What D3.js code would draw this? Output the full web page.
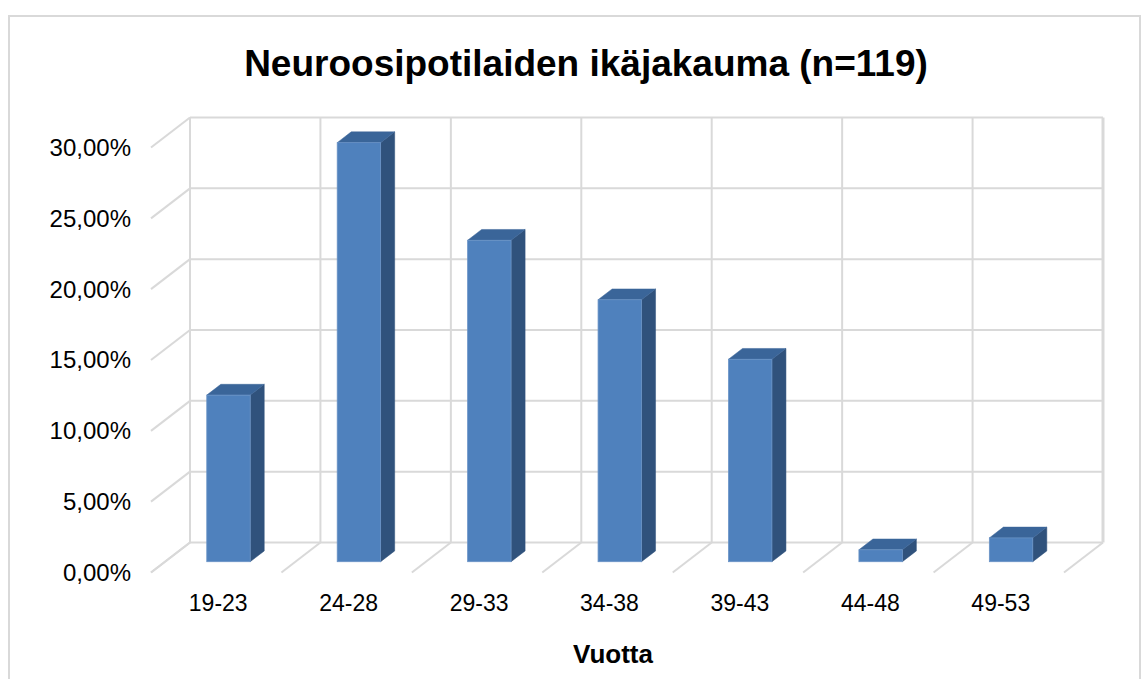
<!DOCTYPE html>
<html><head><meta charset="utf-8">
<script src="https://cdn.jsdelivr.net/npm/d3@7/dist/d3.min.js"></script>
<style>html,body{margin:0;padding:0;background:#fff;}svg{display:block;}</style>
</head><body>
<svg id="c" width="1148" height="679"></svg>
<script>
const categories = ["19-23","24-28","29-33","34-38","39-43","44-48","49-53"];
const values = [0.1176, 0.2958, 0.2269, 0.1849, 0.1429, 0.0084, 0.0168];
const yTicks = [0, 0.05, 0.10, 0.15, 0.20, 0.25, 0.30];
const titleText = "Neuroosipotilaiden ikäjakauma (n=119)";
const xTitle = "Vuotta";

const svg = d3.select("#c");
const font = "'Liberation Sans', Arial, sans-serif";
const grid = "#d9d9d9";

// outer border
svg.append("rect").attr("x",9).attr("y",16).attr("width",1131).attr("height",700)
  .attr("fill","#fff").attr("stroke","#d9d9d9").attr("stroke-width",2);

const x = d3.scaleBand().domain(categories).range([190,1103]);
const y = d3.scaleLinear().domain([0,0.30]).range([542.5,117.5]);
const DX = -39, DY = 30; // full depth offset (back -> front)
const P = (px, py, t) => [px + DX*t, py + DY*t];

const loc = d3.formatLocale({decimal:",", thousands:" ", grouping:[3], currency:["","€"]});
const fmt = loc.format(".2%");

const g = svg.append("g");
// back wall horizontal grid
yTicks.forEach(v => {
  g.append("line").attr("x1",190).attr("x2",1103).attr("y1",y(v)).attr("y2",y(v))
    .attr("stroke",grid).attr("stroke-width",2);
  const [fx,fy] = P(190,y(v),1);
  g.append("line").attr("x1",190).attr("y1",y(v)).attr("x2",fx).attr("y2",fy)
    .attr("stroke",grid).attr("stroke-width",2);
});
// vertical grid and floor diagonals
const bounds = categories.map(c => x(c)).concat([x.range()[1]]);
bounds.forEach((bx,i) => {
  g.append("line").attr("x1",bx).attr("x2",bx).attr("y1",y(0.30)).attr("y2",y(0))
    .attr("stroke",grid).attr("stroke-width", i===bounds.length-1 ? 3 : 2);
  const [fx,fy] = P(bx,y(0),1);
  g.append("line").attr("x1",bx).attr("y1",y(0)).attr("x2",fx).attr("y2",fy)
    .attr("stroke",grid).attr("stroke-width",2);
});

// bars
const tF = 0.64, tB = 0.28;
const bars = svg.append("g");
categories.forEach((c,i) => {
  const v = values[i];
  const x0 = x(c) + x.bandwidth()*0.32, x1 = x0 + x.bandwidth()*0.333;
  const yTop = y(v), yBot = y(0);
  const f = (px,py) => P(px,py,tF), b = (px,py) => P(px,py,tB);
  const poly = pts => pts.map(p => p.join(",")).join(" ");
  bars.append("polygon").attr("points", poly([f(x1,yBot), f(x1,yTop), b(x1,yTop), b(x1,yBot)]))
    .attr("fill","#30527c").attr("stroke","#30527c").attr("stroke-width",0.5);
  bars.append("polygon").attr("points", poly([f(x0,yTop), b(x0,yTop), b(x1,yTop), f(x1,yTop)]))
    .attr("fill","#3a6599").attr("stroke","#3a6599").attr("stroke-width",0.5);
  const [fx0,fy0] = f(x0,yTop), [fx1,fy1] = f(x1,yBot);
  bars.append("rect").attr("x",fx0).attr("y",fy0).attr("width",fx1-fx0).attr("height",fy1-fy0)
    .attr("fill","#4f81bd").attr("stroke","#6a93c6").attr("stroke-width",0.8);
});

// y labels (front plane)
yTicks.forEach(v => {
  svg.append("text").attr("x",131).attr("y",y(v)+DY).attr("dy","0.35em")
    .attr("text-anchor","end").attr("font-family",font).attr("font-size",24).attr("fill","#000")
    .text(fmt(v));
});
// x labels
categories.forEach(c => {
  svg.append("text").attr("x",x(c)+x.bandwidth()/2+DX+2).attr("y",611)
    .attr("text-anchor","middle").attr("font-family",font).attr("font-size",23).attr("fill","#000")
    .text(c);
});
svg.append("text").attr("x",613).attr("y",663).attr("text-anchor","middle")
  .attr("font-family",font).attr("font-size",26).attr("font-weight","bold").text(xTitle);
svg.append("text").attr("x",586).attr("y",76).attr("text-anchor","middle")
  .attr("font-family",font).attr("font-size",37).attr("font-weight","bold").text(titleText);
</script>
</body></html>
